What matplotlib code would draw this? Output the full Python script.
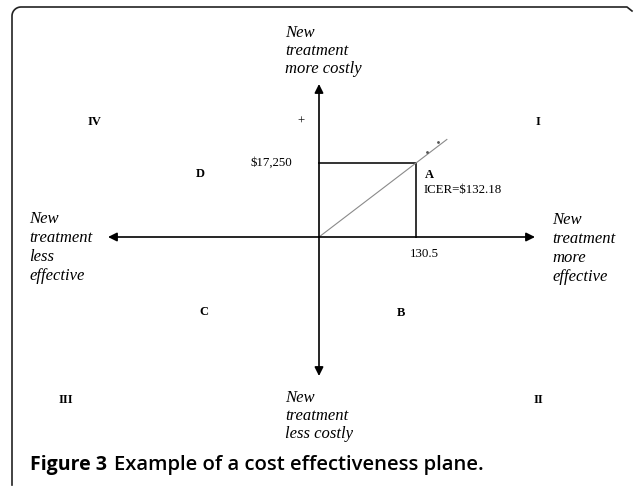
import numpy as np
import matplotlib.pyplot as plt
from matplotlib.lines import Line2D

# data of the example point
effect_A = 130.5
cost_A = 17250
icer_A = cost_A / effect_A

quadrants = ['I', 'II', 'III', 'IV']
regions = ['A', 'B', 'C', 'D']
top_label = ['New', 'treatment', 'more costly']
bottom_label = ['New', 'treatment', 'less costly']
left_label = ['New', 'treatment', 'less', 'effective']
right_label = ['New', 'treatment', 'more', 'effective']

W, H = 634, 488
fig = plt.figure(figsize=(W / 100, H / 100), dpi=100)
ax = fig.add_axes([0, 0, 1, 1])
ax.set_axis_off()

# pixel mapping: origin at (319, 237), A at (416, 163)
ox, oy = 319, 237
sx = (416 - ox) / effect_A
sy = (oy - 163) / cost_A
ax.set_xlim(-ox / sx, (W - ox) / sx)
ax.set_ylim((oy - H) / sy, oy / sy)


def px(x, y):
    # figure-pixel position -> data coordinates
    return (x - ox) / sx, (oy - y) / sy


serif = 'Liberation Serif'


def t(x, y, s, **kw):
    kw.setdefault('fontsize', 9.3)
    ax.text(*px(x, y), s, family=serif, **kw)


def stacked(x, y0, lines, pitch):
    for i, s in enumerate(lines):
        t(x, y0 + i * pitch, s, style='italic', fontsize=12, va='baseline')


# axes with arrows
arrow = dict(arrowstyle='-|>', color='black', lw=1.2, mutation_scale=13,
             shrinkA=0, shrinkB=0)
for end in [px(535, oy), px(108, oy), px(ox, 84), px(ox, 376)]:
    ax.annotate('', xy=end, xytext=(0, 0), arrowprops=arrow)

# box to point A
ax.plot([0, effect_A, effect_A], [cost_A, cost_A, 0], color='#333333', lw=1.4)

# ICER line
xs = np.array([0, 172])
ax.plot(xs, xs * icer_A, color='#8a8a8a', lw=0.8)
for x, y in [(438, 142), (427, 152)]:
    ax.plot(*px(x, y), 'o', color='#555555', ms=1)

stacked(285, 37, top_label, 18)
stacked(285, 402, bottom_label, 18)
stacked(29, 223, left_label, 19)
stacked(552, 224, right_label, 19)

bold = dict(weight='bold', fontsize=9, ha='center', va='center')
t(538, 122, quadrants[0], **bold)
t(538, 400, quadrants[1], **bold)
t(66, 400, quadrants[2], **bold)
t(94, 122, quadrants[3], **bold)
t(429, 175, regions[0], **bold)
t(401, 313, regions[1], **bold)
t(204, 312, regions[2], **bold)
t(200, 174, regions[3], **bold)

t(301, 122, '+', ha='center', va='center')
t(271, 163, '$' + f'{cost_A:,}', ha='center', va='center')
t(424, 190, f'ICER=${icer_A:.2f}', ha='left', va='center')
t(424, 254, f'{effect_A}', ha='center', va='center')

# caption
cap_y = 1 - 465 / H
c1 = fig.text(30 / W, cap_y, 'Figure 3', family='Open Sans', weight='bold',
              fontsize=14, va='center')
c2 = fig.text(114 / W, cap_y, 'Example of a cost effectiveness plane.',
              family='Open Sans', weight='semibold', fontsize=14, va='center')
fig.canvas.draw()
w2 = c2.get_window_extent().width
c2.set_fontsize(min(14.6, 14 * 405 / w2))

# frame (top and left edges with rounded corner)
th = np.linspace(np.pi, np.pi / 2, 12)
r = 9
fx = np.concatenate([[12], 12 + r + r * np.cos(th), [627, 632]])
fy = np.concatenate([[485], 7 + r - r * np.sin(th), [7, 11]])
fig.add_artist(Line2D(fx / W, 1 - fy / H, color='#222222', lw=1.2))

fig.savefig('out.png', dpi=100)
